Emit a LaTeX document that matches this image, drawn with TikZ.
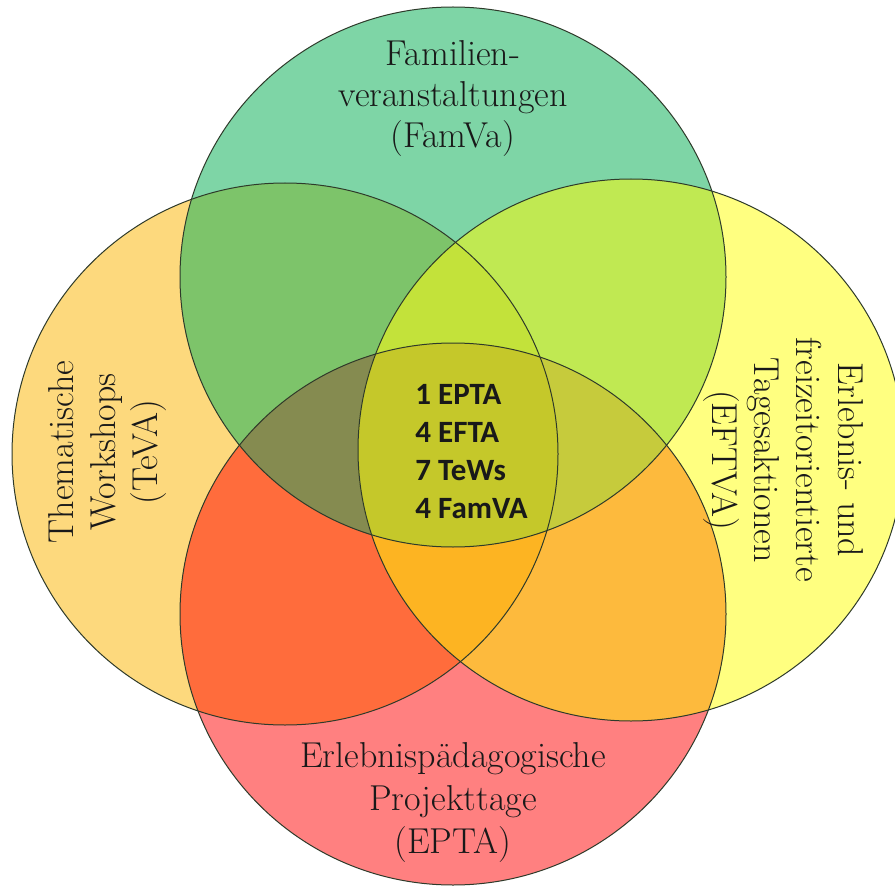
\documentclass[tikz,border=0pt]{standalone}
\usepackage{fontspec}
\newfontfamily\countfont{Carlito}

% region colours
\definecolor{colT}{HTML}{7ED5A6}
\definecolor{colL}{HTML}{FDD97D}
\definecolor{colR}{HTML}{FFFF80}
\definecolor{colB}{HTML}{FF8080}
\definecolor{colTL}{HTML}{7DC46A}
\definecolor{colTR}{HTML}{C0E952}
\definecolor{colBL}{HTML}{FF6C3C}
\definecolor{colBR}{HTML}{FDBA3D}
\definecolor{colLR}{HTML}{C6CB3C}
\definecolor{colTB}{HTML}{C6CB3C}
\definecolor{colTLB}{HTML}{858B50}
\definecolor{colTLR}{HTML}{C3E23A}
\definecolor{colTRB}{HTML}{C6CB3C}
\definecolor{colBLR}{HTML}{FDB422}
\definecolor{colAll}{HTML}{C5C82A}
\definecolor{rimcol}{HTML}{2E3A2A}

\begin{document}
\begin{tikzpicture}[x=1pt,y=-1pt,
  rim/.style={draw=rimcol,line width=1pt},
  setlabel/.style={align=center,inner sep=0pt,text=black!90,font=\rmfamily\fontsize{36}{41}\selectfont},
  countlabel/.style={align=left,inner sep=0pt,text=black!90,font=\countfont\bfseries\fontsize{31}{37.7}\selectfont}]

\fill[white] (0,0) rectangle (895,888);
\useasboundingbox (0,0) rectangle (895,888);

% the four sets
\def\setT{(453,277) ellipse [x radius=273pt, y radius=270pt]}
\def\setL{(285,454) ellipse [x radius=273pt, y radius=271pt]}
\def\setR{(631,450) ellipse [x radius=273pt, y radius=271pt]}
\def\setB{(453,614) ellipse [x radius=273pt, y radius=271pt]}

% single sets
\fill[colL] \setL;
\fill[colR] \setR;
\fill[colB] \setB;
\fill[colT] \setT;

% pairwise overlaps
\begin{scope}\clip \setT; \fill[colTL] \setL; \end{scope}
\begin{scope}\clip \setT; \fill[colTR] \setR; \end{scope}
\begin{scope}\clip \setB; \fill[colBL] \setL; \end{scope}
\begin{scope}\clip \setB; \fill[colBR] \setR; \end{scope}
\begin{scope}\clip \setL; \fill[colLR] \setR; \end{scope}
\begin{scope}\clip \setT; \fill[colTB] \setB; \end{scope}

% triple overlaps
\begin{scope}\clip \setT; \clip \setL; \fill[colTLB] \setB; \end{scope}
\begin{scope}\clip \setT; \clip \setL; \fill[colTLR] \setR; \end{scope}
\begin{scope}\clip \setT; \clip \setR; \fill[colTRB] \setB; \end{scope}
\begin{scope}\clip \setB; \clip \setL; \fill[colBLR] \setR; \end{scope}

% all four
\begin{scope}\clip \setT; \clip \setL; \clip \setR; \fill[colAll] \setB; \end{scope}

% outlines
\draw[rim] \setL;
\draw[rim] \setR;
\draw[rim] \setB;
\draw[rim] \setT;

% set labels
\node[setlabel] (famva) at (453,98.5) {Familien-\\veranstaltungen\\(FamVa)};
\node[setlabel,rotate=90,font=\rmfamily\fontsize{36}{42}\selectfont] (teva) at (108,452) {Thematische\\Workshops\\(TeVA)};
\node[setlabel,rotate=-90,font=\rmfamily\fontsize{36}{42}\selectfont] (eftva) at (783,460) {Erlebnis- und\\freizeitorientierte\\Tagesaktionen\\(EFTVA)};
\node[setlabel,font=\rmfamily\fontsize{36}{43}\selectfont] (epta) at (453,802.5) {Erlebnispädagogische\\Projekttage\\(EPTA)};

% counts in the common centre
\node[countlabel] (counts) at (471.5,451.5) {1 EPTA\\4 EFTA\\7 TeWs\\4 FamVA};
\end{tikzpicture}
\end{document}
